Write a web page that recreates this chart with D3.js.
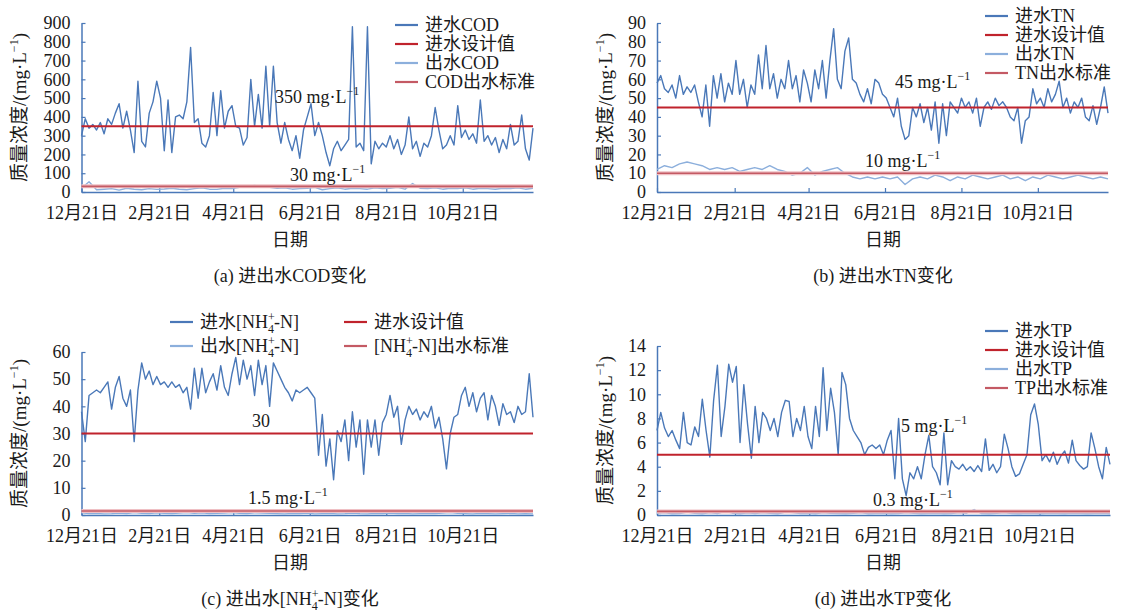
<!DOCTYPE html>
<html>
<head>
<meta charset="utf-8">
<script src="https://cdn.jsdelivr.net/npm/d3@7"></script>
<style>
  body { margin: 0; background: #fff; }
  svg { display: block; font-family: "Liberation Serif", "Times New Roman", "Noto Sans CJK SC", serif; }
</style>
</head>
<body>
<svg id="chart"></svg>
<script>
// dates on the x axis
const startDate = '2017-12-21'
const endDate = '2018-12-16'
const tickDates = ['2017-12-21', '2018-02-21', '2018-04-21', '2018-06-21', '2018-08-21', '2018-10-21']
const inStep = 3   // days between influent readings
const outStep = 6  // days between effluent readings

const codTicks = [0, 100, 200, 300, 400, 500, 600, 700, 800, 900]
const tnTicks = [0, 10, 20, 30, 40, 50, 60, 70, 80, 90]
const nhTicks = [0, 10, 20, 30, 40, 50, 60]
const tpTicks = [0, 2, 4, 6, 8, 10, 12, 14]

// design influent value and effluent standard, order: COD, TN, NH4, TP
const designValues = [350, 45, 30, 5]
const standardValues = [30, 10, 1.5, 0.3]
const designLabels = ['350 ', '45 ', '30', '5 ']
const standardLabels = ['30 ', '10 ', '1.5 ', '0.3 ']

const codIn = [300, 390, 340, 360, 330, 370, 310, 390, 360, 420,
    470, 340, 430, 330, 210, 590, 270, 240, 420, 480,
    590, 500, 220, 490, 210, 400, 410, 390, 480, 770,
    370, 390, 260, 240, 300, 530, 300, 540, 340, 430,
    460, 350, 340, 250, 290, 600, 350, 520, 340, 670,
    350, 670, 370, 260, 370, 280, 220, 300, 180, 330,
    400, 470, 300, 370, 300, 210, 140, 230, 270, 220,
    250, 280, 880, 240, 260, 220, 880, 150, 270, 230,
    260, 240, 300, 230, 280, 200, 250, 400, 230, 270,
    190, 260, 240, 300, 450, 330, 230, 250, 300, 250,
    460, 290, 330, 280, 310, 260, 490, 270, 300, 250,
    290, 210, 280, 230, 360, 250, 270, 410, 230, 170, 340]
const codOut = [20, 55, 12, 15, 18, 10, 20, 15, 12, 18,
    14, 16, 20, 15, 12, 18, 22, 15, 14, 20,
    18, 25, 30, 35, 28, 25, 20, 22, 15, 18,
    20, 25, 12, 18, 22, 15, 20, 18, 15, 22,
    18, 20, 25, 15, 45, 20, 18, 22, 15, 20,
    18, 22, 15, 20, 18, 15, 20, 18, 22, 15, 20]

const tnIn = [58, 62, 55, 53, 57, 50, 62, 52, 56, 53,
    57, 48, 40, 57, 35, 62, 50, 63, 48, 58,
    52, 70, 52, 60, 45, 57, 52, 73, 55, 78,
    55, 63, 50, 60, 55, 70, 55, 62, 48, 65,
    58, 48, 65, 55, 70, 50, 70, 87, 60, 55,
    75, 82, 60, 58, 52, 48, 55, 47, 60, 58,
    52, 50, 45, 40, 50, 35, 28, 30, 45, 40,
    47, 37, 45, 33, 48, 26, 47, 30, 48, 45,
    42, 50, 45, 48, 42, 50, 35, 45, 48, 44,
    50, 46, 48, 45, 40, 38, 45, 26, 38, 40,
    55, 47, 50, 45, 55, 48, 52, 59, 45, 50,
    42, 48, 45, 50, 40, 38, 46, 36, 45, 56, 42]
const tnOut = [12, 14, 13, 15, 16, 15, 14, 12, 13, 12,
    13, 11, 12, 13, 12, 14, 12, 11, 9, 10,
    13, 9, 11, 12, 13, 10, 8, 7, 8, 7,
    8, 7, 8, 4, 7, 8, 7, 9, 8, 6,
    8, 7, 9, 8, 7, 8, 9, 7, 8, 6,
    8, 7, 9, 8, 7, 8, 9, 8, 7, 8, 7]

const nhIn = [38, 27, 44, 45, 46, 45, 47, 49, 39, 47,
    51, 43, 40, 46, 27, 46, 56, 50, 53, 48,
    51, 48, 49, 47, 49, 47, 48, 45, 47, 39,
    54, 43, 54, 45, 49, 52, 46, 55, 47, 44,
    52, 58, 48, 57, 50, 55, 44, 57, 48, 55,
    40, 56, 53, 50, 47, 45, 42, 46, 45, 46,
    47, 45, 43, 22, 37, 18, 28, 13, 31, 27,
    35, 20, 38, 25, 35, 15, 35, 25, 35, 22,
    34, 37, 44, 36, 40, 26, 35, 40, 37, 39,
    35, 38, 36, 40, 32, 36, 28, 17, 30, 36,
    37, 44, 47, 40, 45, 38, 43, 45, 35, 44,
    40, 33, 41, 37, 38, 34, 40, 37, 38, 52, 36]
const nhOut = [0.8, 0.5, 0.6, 0.4, 0.5, 0.7, 0.5, 0.9, 0.6, 0.5,
    0.8, 0.6, 0.5, 0.7, 0.9, 0.6, 0.8, 0.5, 0.6, 0.7,
    0.9, 0.6, 0.5, 0.8, 0.7, 0.6, 0.5, 0.4, 0.6, 0.5,
    0.7, 0.4, 0.5, 0.6, 0.4, 0.5, 0.7, 0.5, 0.4, 0.6,
    0.5, 0.7, 0.5, 0.6, 0.4, 0.5, 0.6, 0.5, 0.7, 0.9,
    0.6, 0.5, 0.4, 0.6, 0.5, 0.4, 0.5, 0.6, 0.4, 0.5, 0.4]

const tpIn = [7.0, 8.5, 7.2, 6.5, 7.0, 6.2, 5.5, 8.5, 6.0, 5.8,
    7.3, 6.5, 9.6, 7.0, 4.8, 9.5, 12.4, 6.5, 9.0, 12.5,
    11.0, 12.3, 6.0, 10.8, 7.5, 4.7, 9.0, 6.0, 8.5,
    8.0, 7.0, 8.0, 6.5, 8.5, 9.5, 9.4, 6.5, 8.0, 7.0,
    9.0, 6.5, 5.5, 9.0, 6.5, 12.2, 7.0, 10.5, 8.5, 5.0,
    11.8, 10.8, 8.0, 7.0, 6.5, 6.0, 5.0, 5.6, 5.8, 5.5,
    5.8, 5.0, 6.2, 7.0, 3.0, 8.0, 3.0, 1.6, 3.5,
    3.0, 4.0, 3.0, 5.0, 6.6, 4.0, 3.5, 2.5, 6.8, 2.5,
    4.5, 4.0, 3.8, 4.2, 3.7, 4.0, 3.6, 4.1, 3.6, 6.3,
    3.7, 4.2, 3.5, 4.0, 6.7, 5.5, 4.0, 3.2, 3.4, 4.2,
    5.0, 8.3, 9.2, 7.5, 4.5, 5.0, 4.4, 5.2, 4.2, 4.9,
    5.3, 4.3, 6.2, 4.5, 4.1, 3.8, 4.0, 6.8, 5.5, 4.0,
    3.0, 5.6, 4.2]
const tpOut = [0.15, 0.2, 0.1, 0.12, 0.25, 0.15, 0.1, 0.2, 0.12, 0.3,
    0.15, 0.1, 0.18, 0.12, 0.2, 0.15, 0.1, 0.25, 0.2, 0.12,
    0.15, 0.1, 0.2, 0.15, 0.12, 0.1, 0.15, 0.2, 0.1, 0.12,
    0.15, 0.1, 0.12, 0.2, 0.15, 0.1, 0.12, 0.15, 0.1, 0.12,
    0.2, 0.15, 0.45, 0.12, 0.1, 0.15, 0.2, 0.12, 0.1, 0.15,
    0.12, 0.1, 0.15, 0.12, 0.1, 0.15, 0.12, 0.1, 0.12, 0.15, 0.1]

const blue = '#4a78b8'
const lightBlue = '#8cafdc'
const red = '#c0232c'
const rose = '#c45a64'
const ink = '#1a1a1a'

const svg = d3.select('#chart')
    .attr('width', 1122)
    .attr('height', 612)

svg.append('rect')
    .attr('width', '100%')
    .attr('height', '100%')
    .style('fill', '#fff')

const parse = d3.utcParse('%Y-%m-%d')
const t0 = parse(startDate)
const t1 = parse(endDate)

function sup(sel, before, after) {
    sel.append('tspan').text(before + 'mg·L')
    sel.append('tspan').text('−1').attr('font-size', 12).attr('dy', -8)
    if (after) sel.append('tspan').text(after).attr('dy', 8)
}

function nh4(sel, before, after) {
    sel.append('tspan').text(before + '[NH')
    sel.append('tspan').text('+').attr('font-size', 12).attr('dy', -7)
    sel.append('tspan').text('4').attr('font-size', 12).attr('dx', -6.8).attr('dy', 12)
    sel.append('tspan').text('-N]' + after).attr('dy', -5)
}

function styleAxis(a) {
    a.attr('font-family', null).attr('font-size', 18)
    a.select('.domain').attr('stroke', blue).attr('stroke-width', 1.5)
    a.selectAll('.tick line').attr('stroke', blue).attr('stroke-width', 1.2)
    a.selectAll('.tick text').attr('fill', ink)
}

function drawPanel(p) {
    const x = d3.scaleUtc().domain([t0, t1]).range([p.left, p.right])
    const y = d3.scaleLinear().domain([0, d3.max(p.ticks)]).range([p.bottom, p.top])
    const g = svg.append('g')

    const xa = g.append('g')
        .attr('transform', `translate(0,${p.bottom})`)
        .call(d3.axisBottom(x)
            .tickValues(tickDates.map(parse))
            .tickFormat(d => `${d.getUTCMonth() + 1}月${d.getUTCDate()}日`)
            .tickSizeInner(-4).tickSizeOuter(0).tickPadding(14))
    styleAxis(xa)

    const ya = g.append('g')
        .attr('transform', `translate(${p.left},0)`)
        .call(d3.axisLeft(y).tickValues(p.ticks).tickSizeInner(-4).tickSizeOuter(0).tickPadding(11))
    styleAxis(ya)

    const series = (values, step) => d3.line()
        .x((d, i) => x(d3.utcDay.offset(t0, i * step)))
        .y(d => y(d))(values)
    const flat = v => d3.line().x(d => x(d)).y(() => y(v))([t0, t1])

    const line = (d, color, w) => g.append('path')
        .attr('d', d)
        .attr('fill', 'none')
        .attr('stroke', color)
        .attr('stroke-width', w)
        .attr('stroke-linejoin', 'round')

    line(series(p.inflow, inStep), blue, 1.4)
    line(flat(p.design), red, 2)
    line(series(p.outflow, outStep), lightBlue, 1.4)
    line(flat(p.standard), '#efc0c4', 4)
    line(flat(p.standard), rose, 1.6)

    // legend
    p.legend.forEach(item => {
        g.append('line')
            .attr('x1', item.x).attr('x2', item.x + 23)
            .attr('y1', item.y).attr('y2', item.y)
            .attr('stroke', item.color)
            .attr('stroke-width', 2.2)
        const t = g.append('text')
            .attr('x', item.x + 30).attr('y', item.y + 6)
            .attr('font-size', 18).attr('fill', ink)
        if (item.nh) nh4(t, item.before, item.after)
        else t.text(item.label)
    })

    const dl = g.append('text')
        .attr('x', p.designAt[0]).attr('y', p.designAt[1])
        .attr('font-size', 18).attr('fill', ink)
    if (p.designLabel.endsWith(' ')) sup(dl, p.designLabel)
    else dl.text(p.designLabel)

    sup(g.append('text')
        .attr('x', p.standardAt[0]).attr('y', p.standardAt[1])
        .attr('font-size', 18).attr('fill', ink), p.standardLabel)

    sup(g.append('text')
        .attr('transform', `translate(${p.labelX},${(p.top + p.bottom) / 2}) rotate(-90)`)
        .attr('text-anchor', 'middle')
        .attr('dy', 6)
        .attr('font-size', 19).attr('fill', ink), '质量浓度/(', ')')

    g.append('text')
        .attr('x', p.captionX).attr('y', p.bottom + 54)
        .attr('text-anchor', 'middle')
        .attr('font-size', 18).attr('fill', ink)
        .text('日期')

    const cap = g.append('text')
        .attr('x', p.captionX).attr('y', p.bottom + 90)
        .attr('text-anchor', 'middle')
        .attr('font-size', 18).attr('fill', ink)
    if (p.captionNh) nh4(cap, p.caption, '变化')
    else cap.text(p.caption)
}

const legend4 = (x, ys, name) => [
    { x, y: ys[0], color: blue, label: '进水' + name },
    { x, y: ys[1], color: red, label: '进水设计值' },
    { x, y: ys[2], color: lightBlue, label: '出水' + name },
    { x, y: ys[3], color: rose, label: name + '出水标准' }
]

drawPanel({
    left: 81.5, right: 533, top: 23, bottom: 192,
    ticks: codTicks, inflow: codIn, outflow: codOut,
    design: designValues[0], standard: standardValues[0],
    designLabel: designLabels[0], standardLabel: standardLabels[0],
    designAt: [275, 103], standardAt: [290, 181],
    legend: legend4(395, [25, 44, 63, 82], 'COD'),
    labelX: 20, captionX: 290, caption: '(a) 进出水COD变化'
})

drawPanel({
    left: 657, right: 1108, top: 23, bottom: 192,
    ticks: tnTicks, inflow: tnIn, outflow: tnOut,
    design: designValues[1], standard: standardValues[1],
    designLabel: designLabels[1], standardLabel: standardLabels[1],
    designAt: [895, 88], standardAt: [865, 167],
    legend: legend4(985, [16, 35, 54, 73], 'TN'),
    labelX: 606, captionX: 883, caption: '(b) 进出水TN变化'
})

drawPanel({
    left: 81.5, right: 533, top: 352, bottom: 515,
    ticks: nhTicks, inflow: nhIn, outflow: nhOut,
    design: designValues[2], standard: standardValues[2],
    designLabel: designLabels[2], standardLabel: standardLabels[2],
    designAt: [252, 427], standardAt: [248, 504],
    legend: [
        { x: 170, y: 322, color: blue, nh: true, before: '进水', after: '' },
        { x: 170, y: 346, color: lightBlue, nh: true, before: '出水', after: '' },
        { x: 344, y: 322, color: red, label: '进水设计值' },
        { x: 344, y: 346, color: rose, nh: true, before: '', after: '出水标准' }
    ],
    labelX: 20, captionX: 290, caption: '(c) 进出水', captionNh: true
})

drawPanel({
    left: 657, right: 1110, top: 346, bottom: 515,
    ticks: tpTicks, inflow: tpIn, outflow: tpOut,
    design: designValues[3], standard: standardValues[3],
    designLabel: designLabels[3], standardLabel: standardLabels[3],
    designAt: [901, 432], standardAt: [873, 506],
    legend: legend4(985, [331, 350, 369, 388], 'TP'),
    labelX: 606, captionX: 883, caption: '(d) 进出水TP变化'
})
</script>
</body>
</html>
